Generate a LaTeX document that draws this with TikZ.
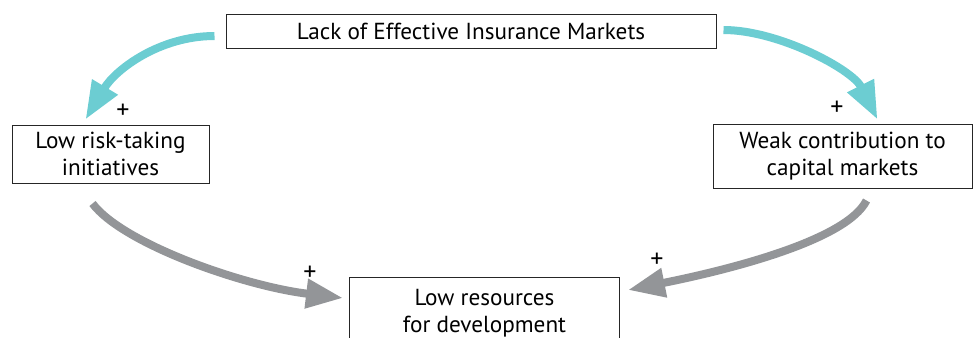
\documentclass[tikz,border=0pt]{standalone}
\usepackage{fontspec}
\setmainfont{PT Sans}
\usetikzlibrary{arrows.meta}

\definecolor{loopteal}{RGB}{108,205,210}
\definecolor{loopgray}{RGB}{147,149,152}

\tikzset{
  factor/.style={draw=black!85,line width=0.5pt,align=center,inner sep=0pt,
    font=\fontsize{11.6}{13.5}\selectfont},
  tealflow/.style={line width=4pt,loopteal,-{Triangle[length=19pt,width=14pt]}},
  grayflow/.style={line width=4pt,loopgray,-{Triangle[length=18.5pt,width=14pt]}},
  sign/.style={font=\fontsize{13}{14}\selectfont,inner sep=0pt}
}

\begin{document}
\begin{tikzpicture}[x=0.5pt,y=-0.5pt]
\clip (0,0) rectangle (973,337);

  \node[factor,minimum width=245pt,minimum height=17pt] (lack) at (471,31) {Lack of Effective Insurance Markets};
  \node[factor,minimum width=98.5pt,minimum height=29pt] (risk) at (110.5,154) {Low risk-taking\\initiatives};
  \node[factor,minimum width=129.5pt,minimum height=32pt] (weak) at (842.5,156) {Weak contribution to\\capital markets};
  \node[factor,minimum width=135pt,minimum height=36pt] (res) at (484.5,313) {Low resources\\for development};

  % positive links out of the insurance gap
  \draw[tealflow] ([shift={(-11,5)}]lack.west) .. controls +(-55,0) and +(30,-50) .. ([shift={(-25,-5)}]risk.north);
  \draw[tealflow] ([shift={(7,-1)}]lack.east) .. controls +(55,0) and +(-25,-50) .. ([shift={(35,-4)}]weak.north);

  % both feed into low resources
  \draw[grayflow] ([shift={(-18,20)}]risk.south) .. controls +(30,40) and +(-100,-12) .. ([shift={(-6,-15)}]res.west);
  \draw[grayflow] ([shift={(24,12)}]weak.south) .. controls +(-20,40) and +(100,-20) .. ([shift={(8,-23)}]res.east);

  \node[sign] (p1) at (123,111) {+};
  \node[sign] (p2) at (837,108) {+};
  \node[sign] (p3) at (310,273) {+};
  \node[sign] (p4) at (657,260) {+};

\end{tikzpicture}
\end{document}
